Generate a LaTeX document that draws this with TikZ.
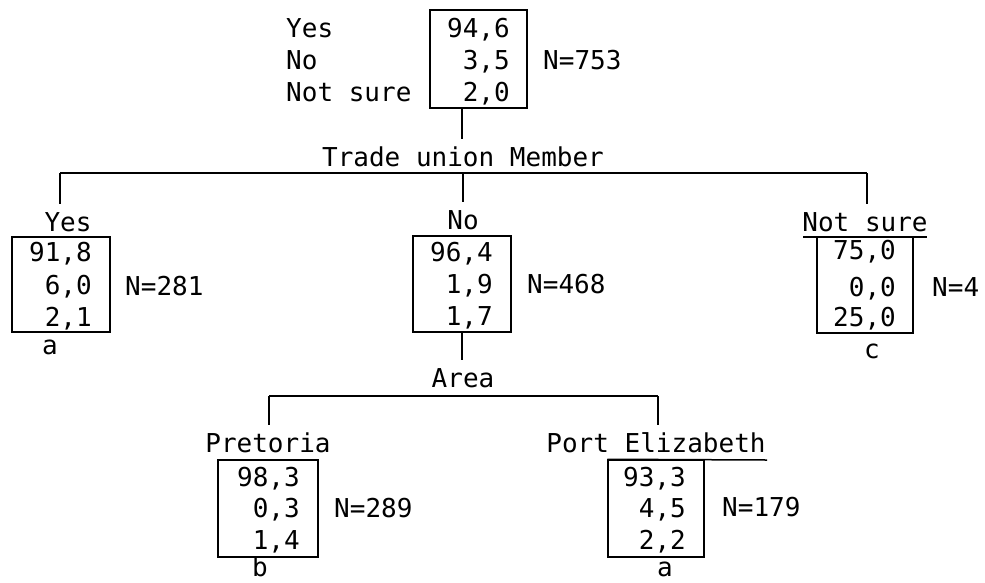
\documentclass[tikz,border=0pt]{standalone}
\usepackage{fontspec}
\newfontfamily\tw{DejaVu Sans Mono}
\tikzset{
  txt/.style={inner sep=0pt, font=\tw\fontsize{26}{26}\selectfont, text height=19pt, text depth=0pt},
  val/.style={txt, anchor=east},
  lft/.style={txt, anchor=west},
  lbl/.style={txt, inner ysep=8pt},
  cell/.style={draw, line width=1.5pt, inner sep=0pt},
  ln/.style={line width=1.5pt}
}
\begin{document}
\begin{tikzpicture}[x=1pt,y=-1pt]
\useasboundingbox (0,0) rectangle (985,582);
% root
\node[cell, minimum width=97pt, minimum height=98pt] (r) at (478.5,59) {};
\node[lft] (ry) at (286,28) {Yes};
\node[lft] (rn) at (286,60) {No};
\node[lft] (rs) at (286,92) {Not sure};
\node[val] (r1) at (510,28) {94,6};
\node[val] (r2) at (510,60) {3,5};
\node[val] (r3) at (510,92) {2,0};
\node[lft] (rN) at (543,60) {N=753};
% trade union
\node[lbl] (tum) at (463,157) {Trade union Member};
\coordinate (rb) at (462,108);
\draw[ln] (rb) -- (rb |- tum.north);
\coordinate (b1) at (60,173);
\coordinate (b2) at (463,173);
\coordinate (b3) at (867,173);
\draw[ln] (b1) -- (b3);
% yes
\node[lbl] (ly) at (68,222) {Yes};
\draw[ln] (b1) -- (b1 |- ly.north);
\node[cell, minimum width=98pt, minimum height=95pt] (y) at (61,284.5) {};
\node[val] (y1) at (92,252) {91,8};
\node[val] (y2) at (92,285) {6,0};
\node[val] (y3) at (92,317) {2,1};
\node[lft] (yN) at (125,286) {N=281};
\node[txt] (ya) at (50,345) {a};
% no
\node[lbl] (lno) at (463,220) {No};
\draw[ln] (b2) -- (b2 |- lno.north);
\node[cell, minimum width=98pt, minimum height=96pt] (n) at (462,284) {};
\node[val] (n1) at (493,252) {96,4};
\node[val] (n2) at (493,284) {1,9};
\node[val] (n3) at (493,316) {1,7};
\node[lft] (nN) at (527,284) {N=468};
% not sure
\node[lbl] (lns) at (865,222) {Not sure};
\draw[ln] (b3) -- (b3 |- lns.north);
\node[cell, minimum width=96pt, minimum height=96pt] (s) at (865,285) {};
\draw[ln] (803,237) -- (927,237);
\node[val] (s1) at (896,250) {75,0};
\node[val] (s2) at (896,287) {0,0};
\node[val] (s3) at (896,317) {25,0};
\node[lft] (sN) at (932,287) {N=4};
\node[txt] (sc) at (872,349) {c};
% area
\node[lbl] (area) at (463,378) {Area};
\coordinate (nb) at (462,332);
\draw[ln] (nb) -- (nb |- area.north);
\coordinate (a1) at (269,396);
\coordinate (a2) at (658,396);
\draw[ln] (a1) -- (a2);
% pretoria
\node[lbl] (lp) at (268,443) {Pretoria};
\draw[ln] (a1) -- (a1 |- lp.north);
\node[cell, minimum width=100pt, minimum height=97pt] (p) at (268,508.5) {};
\node[val] (p1) at (300,477) {98,3};
\node[val] (p2) at (300,508) {0,3};
\node[val] (p3) at (300,540) {1,4};
\node[lft] (pN) at (334,508) {N=289};
\node[txt] (pb) at (260,567) {b};
% port elizabeth
\node[lbl] (lpe) at (656,443) {Port Elizabeth};
\draw[ln] (a2) -- (a2 |- lpe.north);
\node[cell, minimum width=96pt, minimum height=97pt] (e) at (656,508.5) {};
\draw[ln] (e.north west) -- (767,460);
\node[val] (e1) at (686,477) {93,3};
\node[val] (e2) at (686,508) {4,5};
\node[val] (e3) at (686,540) {2,2};
\node[lft] (eN) at (722,507) {N=179};
\node[txt] (ea) at (665,567) {a};
\end{tikzpicture}
\end{document}
